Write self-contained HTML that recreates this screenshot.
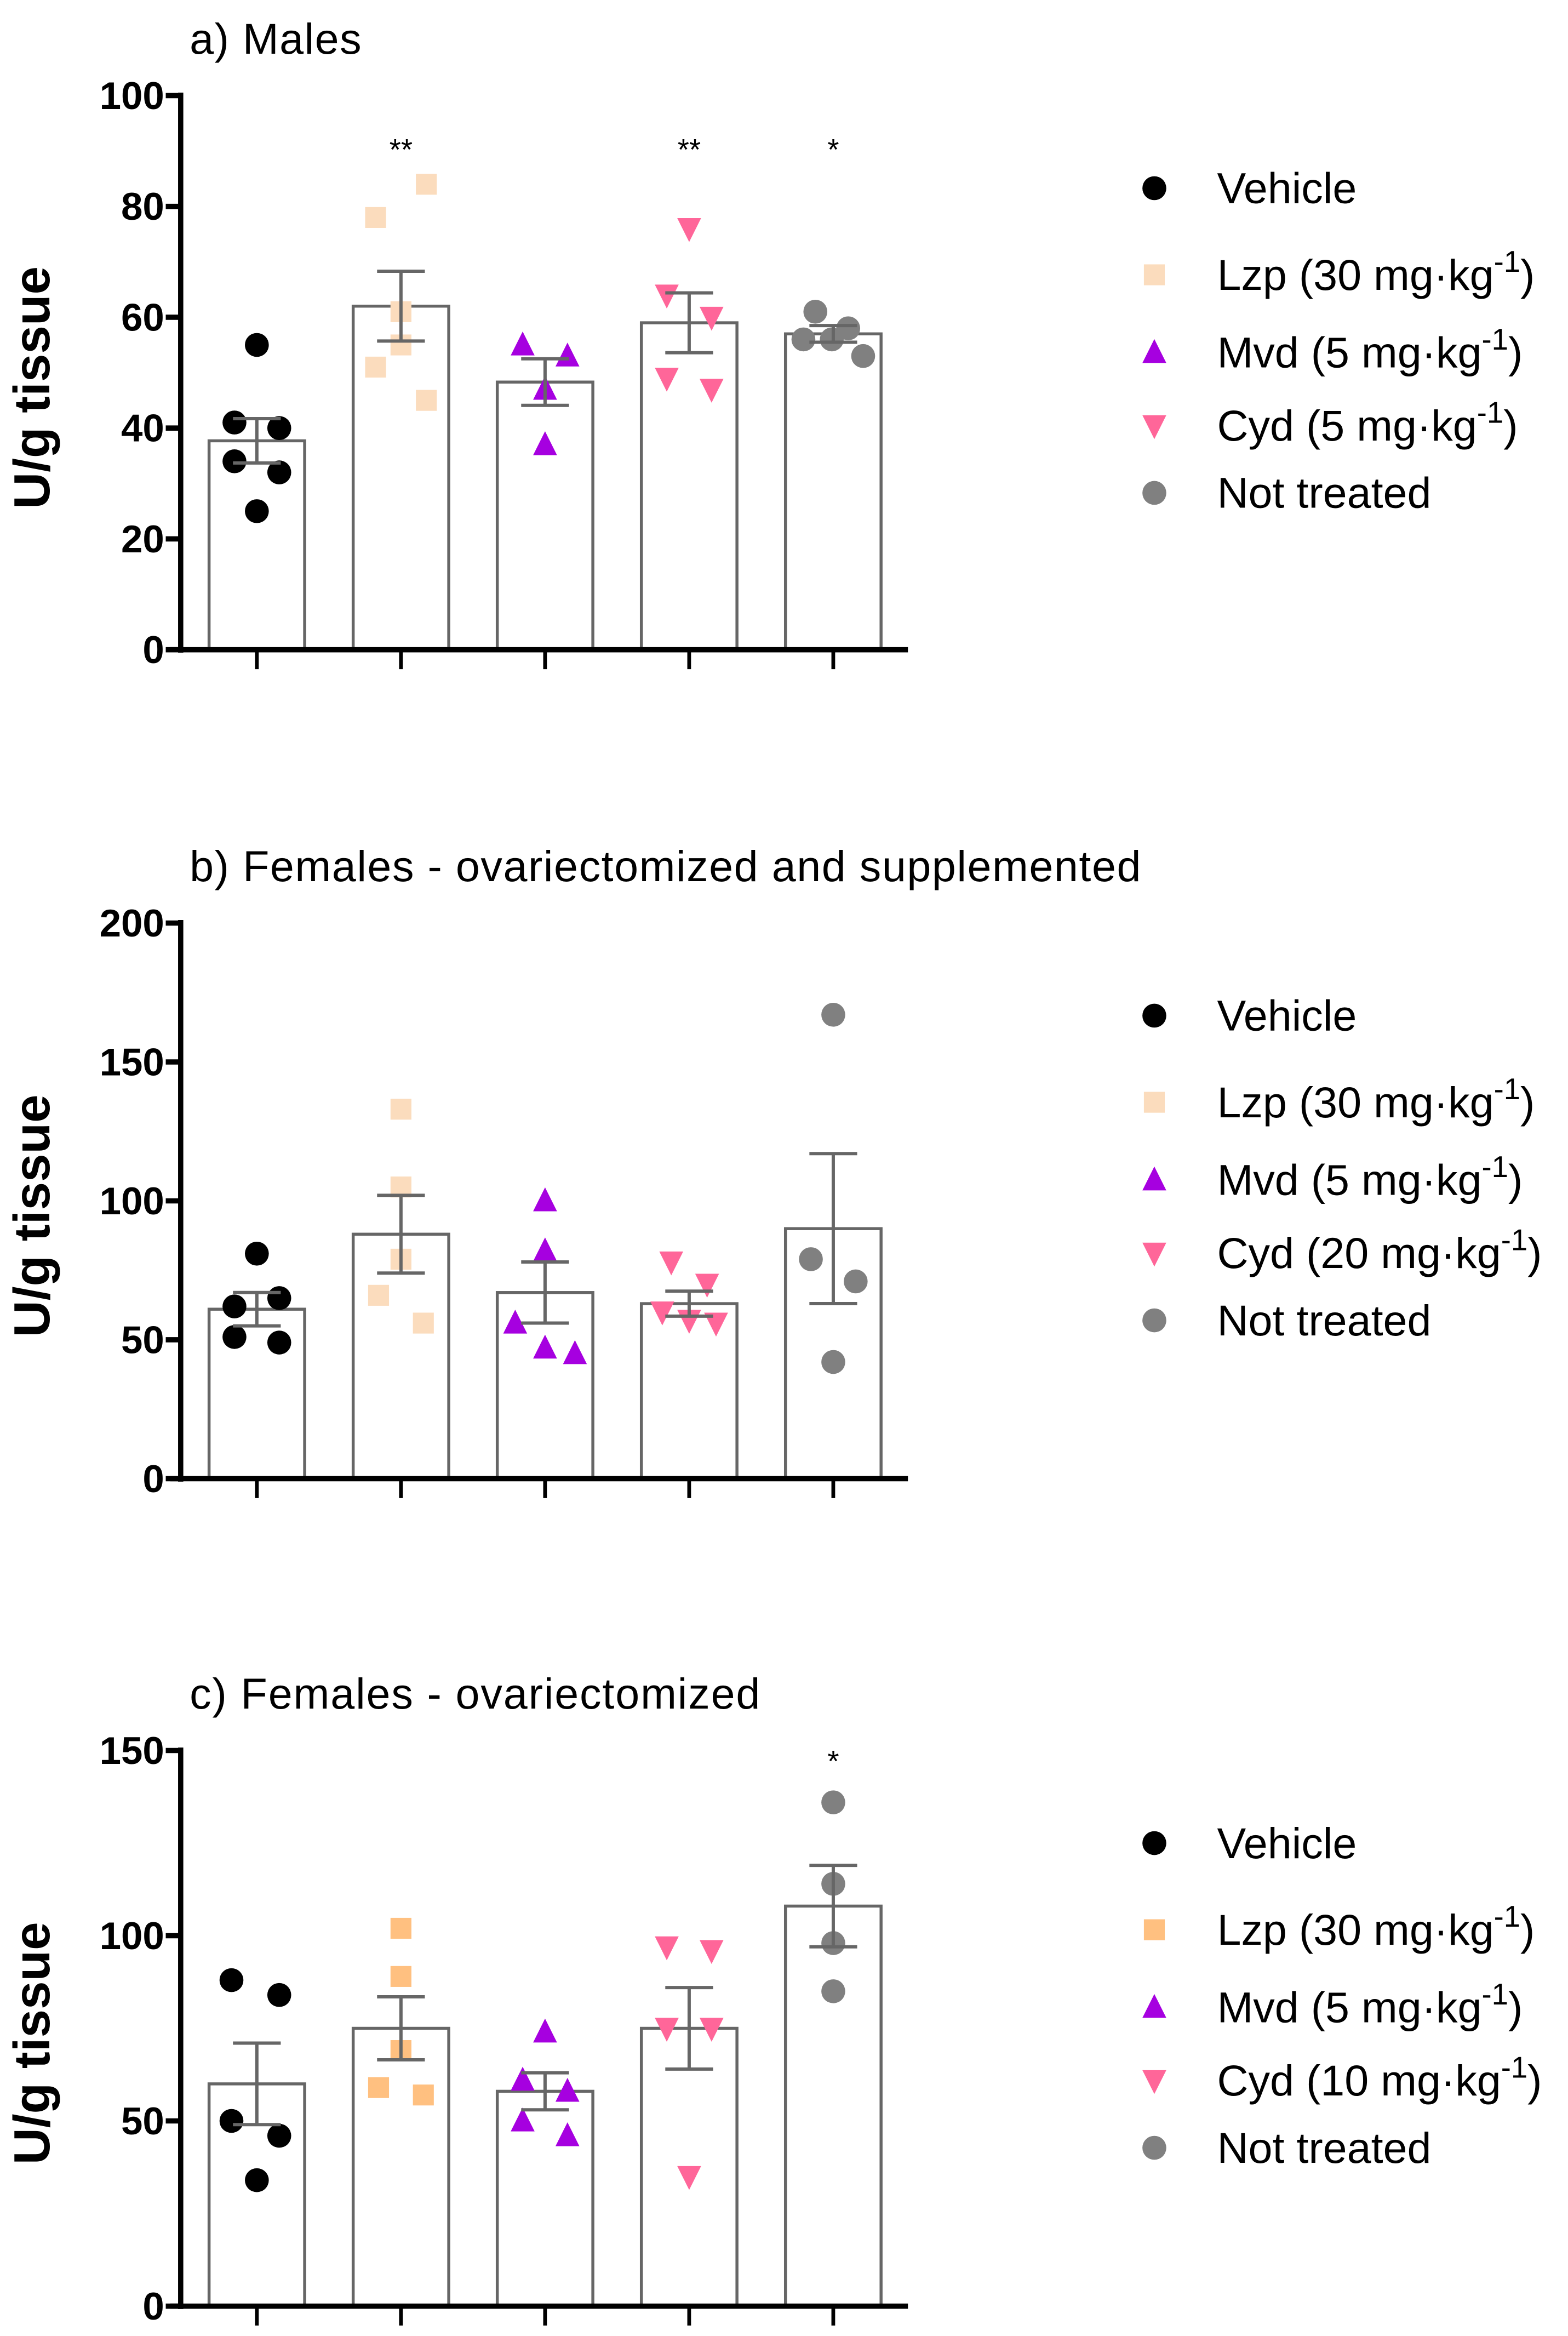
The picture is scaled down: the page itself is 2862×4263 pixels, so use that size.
<!DOCTYPE html>
<html><head><meta charset="utf-8"><style>
html,body{margin:0;padding:0;background:#fff;}
svg{display:block;}
text{font-family:"Liberation Sans",Arial,sans-serif;}
</style></head><body>
<svg id="chart" width="2862" height="4263" viewBox="0 0 1050 1564" xmlns="http://www.w3.org/2000/svg"></svg>
<script>
const groups = ["Vehicle","Lzp","Mvd","Cyd","Not treated"];
const aValues = [[55,41,40,34,32,25],[84,78,61,55,51,45],[55,53,47,37],[76,64,60,49,47],[61,58,56,56,53]];
const aOffsets = [[0,-15,15,-15,15,0],[17,-17,0,0,-17,17],[-15,15,0,0],[0,-15,15,-15,15],[-12,10,-20,-1,20]];
const aMeans = [37.7,62,48.3,59,57];
const aSem = [4,6.3,4.2,5.4,1.5];
const aStars = ["","**","","**","*"];
const aTicks = [0,20,40,60,80,100];
const aLegend = ["Vehicle","Lzp (30 mg·kg","Mvd (5 mg·kg","Cyd (5 mg·kg","Not treated"];

const bValues = [[81,65,62,51,49],[133,105,79,66,56],[100,82,56,47,45],[78,70,60,57,56],[167,79,71,42]];
const bOffsets = [[0,15,-15,-15,15],[0,0,0,-15,15],[0,0,-20,0,20],[-12,12,-18,0,18],[0,-15,15,0]];
const bMeans = [61,88,67,63,90];
const bSem = [6,14,11,4.5,27];
const bStars = ["","","","",""];
const bTicks = [0,50,100,150,200];
const bLegend = ["Vehicle","Lzp (30 mg·kg","Mvd (5 mg·kg","Cyd (20 mg·kg","Not treated"];

const cValues = [[88,84,50,46,34],[102,89,69,59,57],[74,61,58,50,46],[97,96,75,75,35],[136,114,98,85]];
const cOffsets = [[-17,15,-17,15,0],[0,0,0,-15,15],[0,-15,15,-15,15],[-15,15,-15,15,0],[0,0,0,0]];
const cMeans = [60,75,58,75,108];
const cSem = [11,8.5,5,11,11];
const cStars = ["","","","","*"];
const cTicks = [0,50,100,150];
const cLegend = ["Vehicle","Lzp (30 mg·kg","Mvd (5 mg·kg","Cyd (10 mg·kg","Not treated"];

const NS="http://www.w3.org/2000/svg";
const svg=document.getElementById('chart');
function mk(tag,attrs,parent){const e=document.createElementNS(NS,tag);for(const k in attrs)e.setAttribute(k,attrs[k]);(parent||svg).appendChild(e);return e;}
const barX=[172,268.5,365,461.5,558];
const shapes=["circle","square","up","down","circle"];

function marker(g,shape,x,y,color){
  let e;
  if(shape==="circle"){e=mk('circle',{cx:x,cy:y,r:8,fill:color},g);}
  else if(shape==="square"){e=mk('rect',{x:x-7,y:y-7,width:14,height:14,fill:color},g);}
  else if(shape==="up"){e=mk('polygon',{points:`${x},${y-9} ${x-8},${y+7} ${x+8},${y+7}`,fill:color},g);}
  else {e=mk('polygon',{points:`${x},${y+9} ${x-8},${y-7} ${x+8},${y-7}`,fill:color},g);}
  return e;
}

function panel(name,title,top,bottom,ymax,ticks,values,offsets,means,sem,stars,starY,legend,colors,titleY,legendYs){
  const g=mk('g',{});
  
  
  const y=v=>bottom-(v/ymax)*(bottom-top);
  const t=mk('text',{x:127,y:titleY,'font-size':29,fill:'#000',textLength:(title.length>20?(title.length>35?637:382):115)},g);t.textContent=title;
  
  
  const yl=mk('text',{x:0,y:0,'font-size':34,'font-weight':'bold','text-anchor':'middle',transform:`translate(33,${(top+bottom)/2+10}) rotate(-90)`},g);
  yl.textContent='U/g tissue';
  
  
  ticks.forEach(tv=>{
    mk('line',{x1:111,x2:121,y1:y(tv),y2:y(tv),stroke:'#000','stroke-width':3.5},g);
    const tl=mk('text',{x:110,y:y(tv)+9,'font-size':26,'font-weight':'bold','text-anchor':'end'},g);
    tl.textContent=tv;
    
    
  });
  values.forEach((vals,i)=>{
    const bx=barX[i];
    const bar=mk('rect',{x:bx-32,y:y(means[i]),width:64,height:bottom-y(means[i]),fill:'#fff',stroke:'#666','stroke-width':2},g);
    
    
    mk('line',{x1:bx,x2:bx,y1:bottom,y2:bottom+13,stroke:'#000','stroke-width':2.5},g);
    vals.forEach((v,j)=>{
      const m=marker(g,shapes[i],bx+offsets[i][j],y(v),colors[i]);
      
      
    });
    const hi=y(means[i]+sem[i]),lo=y(means[i]-sem[i]);
    mk('line',{x1:bx,x2:bx,y1:hi,y2:lo,stroke:'#666','stroke-width':2.2},g);
    mk('line',{x1:bx-16,x2:bx+16,y1:hi,y2:hi,stroke:'#666','stroke-width':2.2},g);
    mk('line',{x1:bx-16,x2:bx+16,y1:lo,y2:lo,stroke:'#666','stroke-width':2.2},g);
    if(stars[i]){const s=mk('text',{x:bx,y:starY,'font-size':20,'text-anchor':'middle'},g);s.textContent=stars[i];
      
      }
  });
  mk('line',{x1:121,x2:121,y1:top-2,y2:bottom+2,stroke:'#000','stroke-width':3.5},g);
  mk('line',{x1:114,x2:608,y1:bottom,y2:bottom,stroke:'#000','stroke-width':3.5},g);
  legend.forEach((lab,i)=>{
    const ly=legendYs[i];
    const m=marker(g,shapes[i],773,ly,colors[i]);
    
    
    const tx=mk('text',{x:815,y:ly+10,'font-size':29},g);
    
    
    tx.appendChild(document.createTextNode(lab));
    if(i>=1&&i<=3){
      const sp=mk('tspan',{dy:-12,'font-size':20},tx);sp.textContent='-1';
      const sp2=mk('tspan',{dy:12},tx);sp2.textContent=')';
    }
  });
}
const colAB=['#000','#fbdcbd','#a600e0','#ff6699','#808080'];
const colC=['#000','#ffc080','#a600e0','#ff6699','#808080'];
panel('panel-a-males','a) Males',64,435,100,aTicks,aValues,aOffsets,aMeans,aSem,aStars,107,aLegend,colAB,36,[126,184,236,285,330]);
panel('panel-b-females-supplemented','b) Females - ovariectomized and supplemented',618,990,200,bTicks,bValues,bOffsets,bMeans,bSem,bStars,0,bLegend,colAB,590,[680,738,790,839,884]);
panel('panel-c-females','c) Females - ovariectomized',1172,1544,150,cTicks,cValues,cOffsets,cMeans,cSem,cStars,1186,cLegend,colC,1144,[1234,1292,1344,1393,1438]);
</script>
</body></html>
